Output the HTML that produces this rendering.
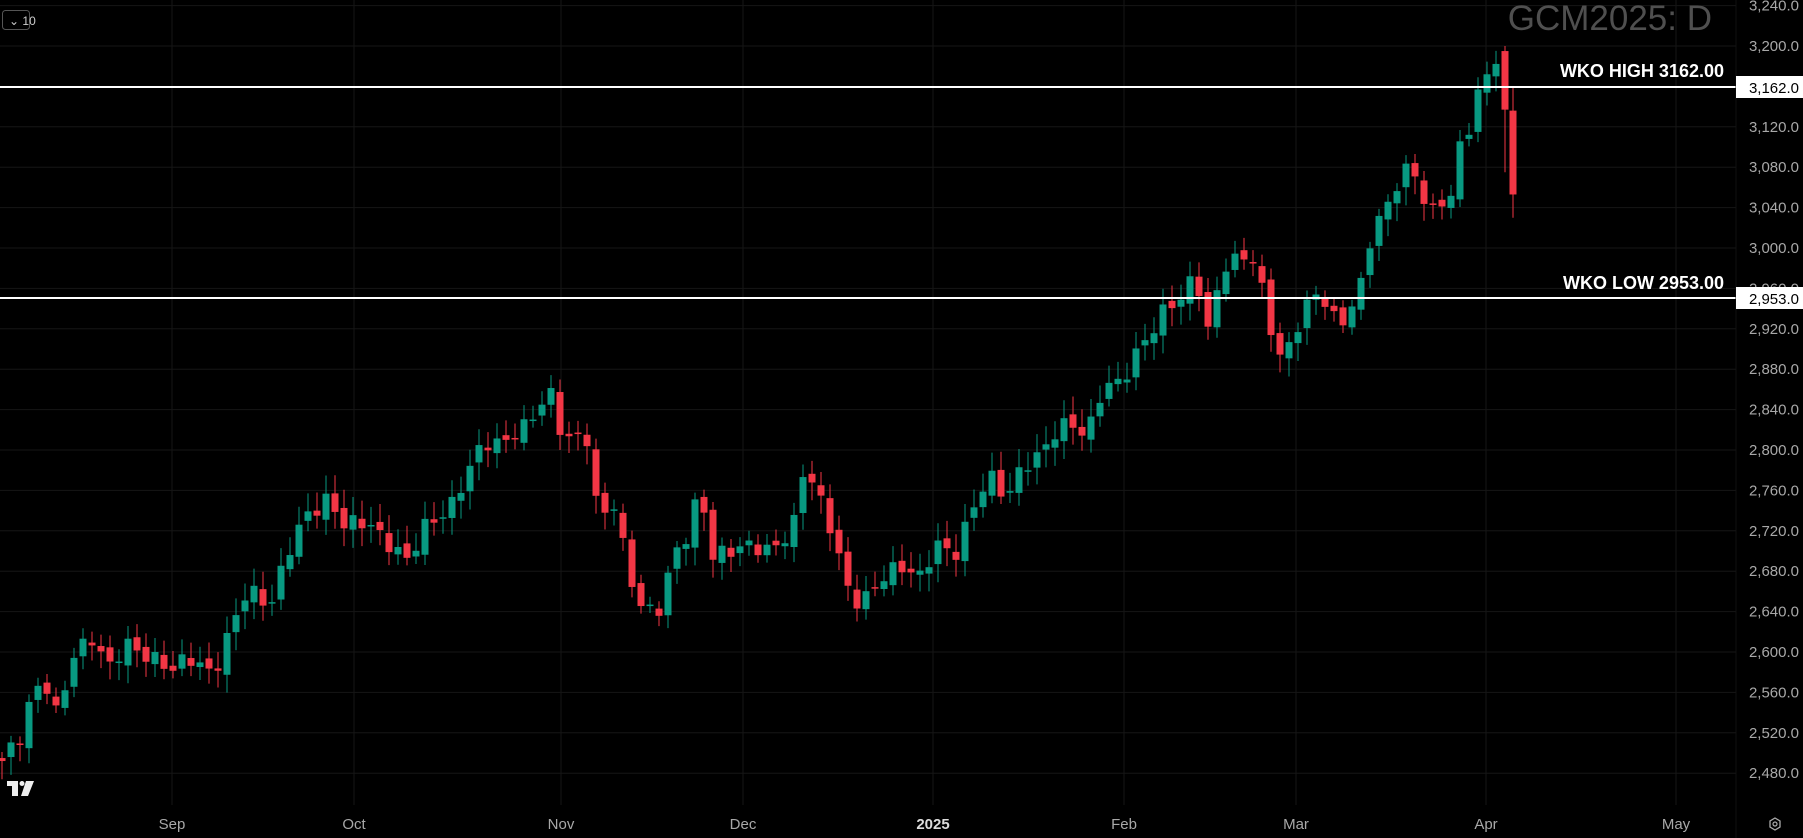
<!DOCTYPE html>
<html><head><meta charset="utf-8"><style>
html,body{margin:0;padding:0;background:#000;overflow:hidden}
svg{display:block}
text{font-family:"Liberation Sans",sans-serif}
</style></head><body>
<svg id="c" width="1803" height="838" viewBox="0 0 1803 838" xmlns="http://www.w3.org/2000/svg">
<rect width="1803" height="838" fill="#000"/>
<g id="grid"></g>
<text x="1712" y="30" text-anchor="end" font-size="35" fill="#4f4f4f">GCM2025: D</text>
<g id="candles"></g>
<line x1="0" y1="87" x2="1736" y2="87" stroke="#fff" stroke-width="2"/>
<line x1="0" y1="298" x2="1736" y2="298" stroke="#fff" stroke-width="2"/>
<text x="1724" y="77" text-anchor="end" font-size="18" font-weight="bold" fill="#fff">WKO HIGH 3162.00</text>
<text x="1724" y="289" text-anchor="end" font-size="18" font-weight="bold" fill="#fff">WKO LOW 2953.00</text>
<g id="axis"></g>
<rect x="1736" y="76" width="67" height="22" fill="#fff"/>
<text x="1799" y="93" text-anchor="end" font-size="15" fill="#000">3,162.0</text>
<rect x="1736" y="287" width="67" height="22" fill="#fff"/>
<text x="1799" y="304" text-anchor="end" font-size="15" fill="#000">2,953.0</text>
<rect x="2.5" y="10.5" width="27" height="19" rx="3" fill="none" stroke="#555"/>
<text x="9" y="25" font-size="12" fill="#ccc">⌄ 10</text>
<g fill="#eee"><rect x="7" y="781" width="11" height="5"/><rect x="12" y="781" width="6" height="15"/><circle cx="22" cy="783.5" r="2.5"/><polygon points="26,781 34,781 28,796 21,796"/></g>
<polygon points="1775,818 1780,821 1780,827 1775,830 1770,827 1770,821" fill="none" stroke="#aaa" stroke-width="1.3"/>
<circle cx="1775" cy="824" r="2" fill="none" stroke="#aaa" stroke-width="1.2"/>
</svg>
<script>
var ns="http://www.w3.org/2000/svg";
function el(p,t,a,txt){var e=document.createElementNS(ns,t);for(var k in a)e.setAttribute(k,a[k]);if(txt)e.textContent=txt;p.appendChild(e);return e;}
function Y(p){return 248-(p-3000)*1.01;}
var grid=document.getElementById('grid'),axis=document.getElementById('axis');
for(var p=2480;p<=3240;p+=40){var y=Y(p);el(grid,'line',{x1:0,x2:1736,y1:y,y2:y,stroke:'#161616','stroke-width':1});
el(axis,'text',{x:1799,y:y+5,'text-anchor':'end','font-size':15,fill:'#a8a8a8'},p.toLocaleString('en-US')+'.0');}
var months=[[172,'Sep'],[354,'Oct'],[561,'Nov'],[743,'Dec'],[933,'2025'],[1124,'Feb'],[1296,'Mar'],[1486,'Apr'],[1676,'May']];
months.forEach(function(m){el(grid,'line',{x1:m[0],x2:m[0],y1:0,y2:805,stroke:'#161616'});
el(axis,'text',{x:m[0],y:829,'text-anchor':'middle','font-size':15,fill:m[1]=='2025'?'#ddd':'#a8a8a8','font-weight':m[1]=='2025'?'bold':'normal'},m[1]);});
el(axis,'line',{x1:1736,x2:1736,y1:0,y2:838,stroke:'#111'});
var A=[[0,2490],[17,2510],[30,2560],[40,2570],[50,2540],[63,2600],[80,2610],[95,2580],[110,2610],[130,2600],[150,2580],[165,2590],[185,2580],[205,2640],[215,2660],[235,2640],[250,2700],[265,2740],[285,2750],[300,2720],[320,2730],[340,2710],[355,2690],[370,2720],[390,2740],[405,2780],[420,2810],[435,2800],[455,2820],[470,2850],[480,2860],[490,2810],[510,2810],[520,2730],[535,2750],[545,2690],[560,2640],[575,2640],[585,2690],[600,2720],[610,2780],[615,2700],[630,2700],[650,2700],[670,2700],[690,2730],[700,2790],[715,2740],[725,2710],[740,2650],[755,2660],[770,2680],[785,2680],[800,2670],[815,2710],[830,2700],[845,2740],[860,2770],[875,2750],[890,2790],[905,2800],[920,2820],[935,2820],[945,2810],[960,2870],[975,2870],[985,2890],[1000,2910],[1015,2940],[1025,2950],[1040,2980],[1050,2920],[1065,2980],[1080,2985],[1090,2990],[1100,2950],[1110,2900],[1120,2900],[1135,2940],[1150,2950],[1165,2920],[1175,2950],[1185,2970],[1195,3030],[1205,3030],[1215,3060],[1225,3080],[1235,3060],[1245,3040],[1255,3050],[1265,3060],[1270,3100],[1280,3120],[1285,3150],[1292,3160],[1300,3190]];
function interp(x){for(var i=0;i<A.length-1;i++){if(x<=A[i+1][0]){var t=(x-A[i][0])/(A[i+1][0]-A[i][0]);return A[i][1]+t*(A[i+1][1]-A[i][1]);}}return A[A.length-1][1];}
var g=document.getElementById('candles');
var spacing=9.0,x0=2,prev=2495;
var n=Math.floor((1500-x0)/spacing)+1;
function draw(x,o,c,h,l){var col=c>=o?'#089981':'#f23645';
el(g,'line',{x1:x,x2:x,y1:Y(h),y2:Y(l),stroke:col,'stroke-width':1});
var t=Y(Math.max(o,c)),b=Y(Math.min(o,c));if(b-t<1.5)b=t+1.5;
el(g,'rect',{x:x-3.5,y:t,width:7,height:b-t,fill:col});}
for(var i=0;i<n;i++){var x=x0+i*spacing;var dx=x/1.15;
var c=interp(dx)+Math.sin(i*2.3)*8+Math.sin(i*0.7)*5;
var o=prev+Math.sin(i*1.7)*4;
var h=Math.max(o,c)+6+Math.abs(Math.sin(i*3.1))*12;
var l=Math.min(o,c)-6-Math.abs(Math.cos(i*2.9))*12;
draw(x,o,c,h,l);prev=c;}
draw(1505,3195,3137,3200,3075);
draw(1513,3136,3053,3160,3030);
</script>
</body></html>
